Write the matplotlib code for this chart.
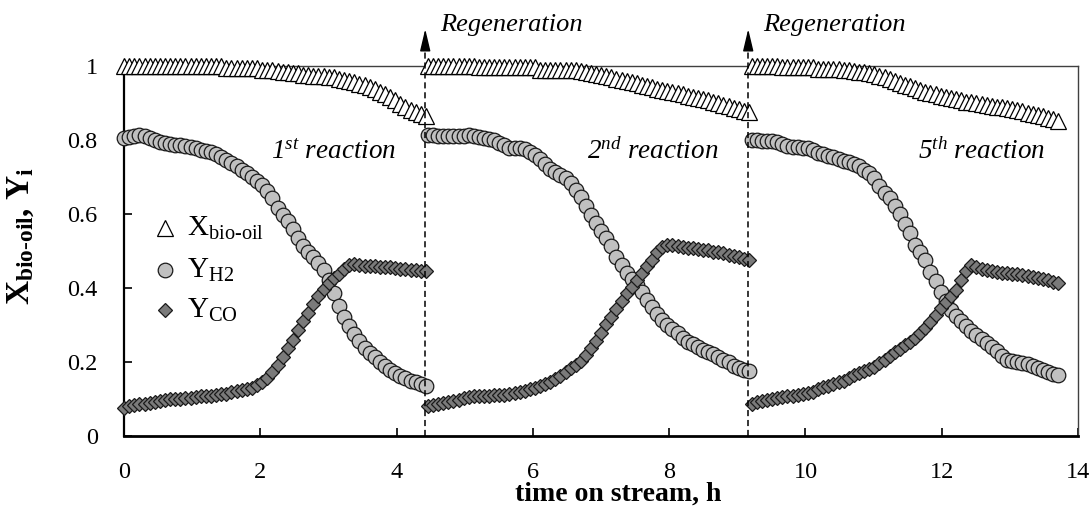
import numpy as np
import matplotlib
matplotlib.use("Agg")
import matplotlib.pyplot as plt

plt.rcParams['font.family'] = ['Liberation Serif', 'DejaVu Serif']
plt.rcParams['mathtext.fontset'] = 'custom'
plt.rcParams['mathtext.rm'] = 'Liberation Serif'
plt.rcParams['mathtext.it'] = 'Liberation Serif:italic'
plt.rcParams['mathtext.bf'] = 'Liberation Serif:bold'

# ---------------- data ----------------
# sampling windows (h) of the three reaction runs
seg_start = [0.0, 4.46, 9.21]
seg_end = [4.43, 9.17, 13.71]
seg_n = [60, 64, 61]
regen_x = [4.42, 9.16]
reaction_labels = ['1$^{st}$ reaction', '2$^{nd}$ reaction', '5$^{th}$ reaction']
reaction_label_x = [3.07, 7.76, 12.58]

# run 1
x_bio_1 = [1.0]*20 + [0.995]*7 + [0.99, 0.99, 0.988, 0.987, 0.985, 0.984, 0.982,
           0.980, 0.977, 0.975, 0.974, 0.973, 0.972, 0.971, 0.969, 0.966, 0.963,
           0.960, 0.956, 0.952, 0.948, 0.943, 0.937, 0.930, 0.923, 0.915, 0.907,
           0.898, 0.890, 0.882, 0.875, 0.869, 0.866]
y_h2_1 = [0.805, 0.808, 0.811, 0.813, 0.812, 0.806, 0.800, 0.795, 0.792, 0.790,
          0.787, 0.785, 0.783, 0.780, 0.777, 0.774, 0.771, 0.768, 0.762, 0.755,
          0.746, 0.738, 0.729, 0.720, 0.711, 0.700, 0.689, 0.677, 0.663, 0.642,
          0.617, 0.597, 0.580, 0.560, 0.535, 0.512, 0.498, 0.483, 0.467, 0.448,
          0.420, 0.385, 0.350, 0.322, 0.296, 0.275, 0.255, 0.238, 0.225, 0.212,
          0.200, 0.189, 0.179, 0.170, 0.162, 0.155, 0.149, 0.144, 0.140, 0.135]
y_co_1 = [0.075, 0.079, 0.082, 0.085, 0.087, 0.089, 0.091, 0.093, 0.096, 0.098,
          0.099, 0.100, 0.102, 0.103, 0.104, 0.106, 0.107, 0.108, 0.110, 0.112,
          0.114, 0.117, 0.120, 0.123, 0.126, 0.130, 0.137, 0.146, 0.157, 0.171,
          0.190, 0.212, 0.236, 0.260, 0.285, 0.309, 0.332, 0.355, 0.377, 0.396,
          0.412, 0.426, 0.438, 0.450, 0.462, 0.465, 0.462, 0.460, 0.459, 0.458,
          0.457, 0.456, 0.455, 0.454, 0.452, 0.451, 0.449, 0.448, 0.446, 0.445]

# run 2
x_bio_2 = [1.0]*10 + [0.996]*12 + [0.99]*7 + [0.988, 0.986, 0.984, 0.981, 0.978,
           0.975, 0.972, 0.969, 0.966, 0.963, 0.960, 0.957, 0.954, 0.950, 0.946,
           0.942, 0.938, 0.935, 0.932, 0.929, 0.926, 0.923, 0.920, 0.917, 0.914,
           0.911, 0.907, 0.903, 0.899, 0.895, 0.891, 0.887, 0.883, 0.879, 0.875]
y_h2_2 = [0.814, 0.813, 0.812, 0.811, 0.810, 0.810, 0.811, 0.812, 0.814, 0.812,
          0.808, 0.805, 0.802, 0.799, 0.792, 0.785, 0.779, 0.777, 0.777, 0.776,
          0.768, 0.759, 0.748, 0.735, 0.722, 0.712, 0.705, 0.698, 0.684, 0.665,
          0.645, 0.622, 0.598, 0.575, 0.553, 0.535, 0.512, 0.484, 0.462, 0.440,
          0.423, 0.408, 0.390, 0.368, 0.347, 0.328, 0.312, 0.299, 0.288, 0.277,
          0.265, 0.254, 0.247, 0.240, 0.233, 0.227, 0.221, 0.214, 0.206, 0.198,
          0.189, 0.182, 0.177, 0.174]
y_co_2 = [0.080, 0.083, 0.086, 0.088, 0.090, 0.093, 0.097, 0.101, 0.104, 0.106,
          0.107, 0.108, 0.108, 0.109, 0.110, 0.111, 0.113, 0.116, 0.119, 0.122,
          0.126, 0.130, 0.135, 0.140, 0.146, 0.153, 0.162, 0.173, 0.182, 0.191,
          0.201, 0.217, 0.236, 0.257, 0.279, 0.302, 0.321, 0.342, 0.364, 0.385,
          0.403, 0.420, 0.441, 0.460, 0.476, 0.497, 0.511, 0.516, 0.515, 0.513,
          0.511, 0.509, 0.507, 0.505, 0.503, 0.501, 0.498, 0.496, 0.493, 0.490,
          0.487, 0.483, 0.479, 0.475]

# run 5
x_bio_3 = [1.0]*6 + [0.996]*7 + [0.993, 0.993, 0.992, 0.992, 0.991, 0.990, 0.989,
           0.987, 0.985, 0.983, 0.981, 0.978, 0.974, 0.969, 0.965, 0.960, 0.955,
           0.950, 0.945, 0.940, 0.935, 0.931, 0.927, 0.923, 0.919, 0.916, 0.913,
           0.910, 0.907, 0.904, 0.902, 0.899, 0.897, 0.894, 0.892, 0.890, 0.888,
           0.886, 0.883, 0.880, 0.877, 0.874, 0.871, 0.867, 0.864, 0.860, 0.856,
           0.852]
y_h2_3 = [0.800, 0.799, 0.798, 0.797, 0.796, 0.794, 0.789, 0.784, 0.781, 0.780,
          0.779, 0.777, 0.772, 0.766, 0.761, 0.757, 0.753, 0.748, 0.744, 0.740,
          0.735, 0.730, 0.720, 0.710, 0.697, 0.675, 0.656, 0.642, 0.622, 0.601,
          0.572, 0.548, 0.515, 0.496, 0.475, 0.442, 0.418, 0.390, 0.365, 0.341,
          0.325, 0.311, 0.298, 0.284, 0.272, 0.261, 0.251, 0.240, 0.228, 0.216,
          0.206, 0.202, 0.200, 0.197, 0.193, 0.188, 0.183, 0.178, 0.173, 0.168,
          0.164]
y_co_3 = [0.087, 0.091, 0.094, 0.097, 0.100, 0.102, 0.104, 0.106, 0.108, 0.110,
          0.112, 0.115, 0.119, 0.125, 0.131, 0.135, 0.139, 0.144, 0.149, 0.157,
          0.165, 0.170, 0.175, 0.180, 0.187, 0.196, 0.206, 0.215, 0.226, 0.235,
          0.245, 0.254, 0.265, 0.277, 0.290, 0.308, 0.326, 0.345, 0.362, 0.378,
          0.395, 0.422, 0.445, 0.462, 0.457, 0.452, 0.448, 0.445, 0.443, 0.441,
          0.440, 0.438, 0.437, 0.435, 0.433, 0.430, 0.427, 0.424, 0.420, 0.416,
          0.412]

x_bio = [x_bio_1, x_bio_2, x_bio_3]
y_h2 = [y_h2_1, y_h2_2, y_h2_3]
y_co = [y_co_1, y_co_2, y_co_3]

xticks = [0, 2, 4, 6, 8, 10, 12, 14]
yticks = [0, 0.2, 0.4, 0.6, 0.8, 1.0]
yticklabels = ['0', '0.2', '0.4', '0.6', '0.8', '1']

# ---------------- styles ----------------
tri_style = dict(marker='^', ms=11, mfc='white', mec='black', mew=0.9, ls='none')
cir_style = dict(marker='o', ms=10.5, mfc='#c0c0c0', mec='#1a1a1a', mew=0.9, ls='none')
dia_style = dict(marker='D', ms=7.3, mfc='#7a7a7a', mec='#1a1a1a', mew=0.9, ls='none')

fig = plt.figure(figsize=(10.92, 5.17), dpi=100)
ax = fig.add_axes([0.1136, 0.1573, 0.8736, 0.715])

for s0, s1, n, xb, h2, co in zip(seg_start, seg_end, seg_n, x_bio, y_h2, y_co):
    t = np.linspace(s0, s1, n)
    ax.plot(t, xb, clip_on=False, zorder=3, **tri_style)
    ax.plot(t, h2, clip_on=False, zorder=4, **cir_style)
    ax.plot(t, co, clip_on=False, zorder=5, **dia_style)

ax.set_xlim(0, 14)
ax.set_ylim(0, 1)

# regeneration markers
for xr in regen_x:
    ax.plot([xr, xr], [0, 1.05], ls=(0, (4, 2.5)), lw=1.1, color='black',
            clip_on=False, zorder=6)
    ax.annotate('', xy=(xr, 1.10), xytext=(xr, 1.045),
                arrowprops=dict(arrowstyle='-|>,head_length=1.35,head_width=0.32',
                                color='black', lw=1.0, shrinkA=0, shrinkB=0),
                annotation_clip=False, zorder=6)
    ax.text(xr + 0.22, 1.112, 'Regeneration', fontsize=19, style='italic',
            ha='left', va='center', clip_on=False)

for lab, lx in zip(reaction_labels, reaction_label_x):
    ax.text(lx, 0.767, lab, fontsize=19.5, style='italic', ha='center', va='center')

# manual legend
leg_x_marker = 0.60
leg_x_text = 0.92
ax.plot([leg_x_marker], [0.562], zorder=5, **tri_style)
ax.plot([leg_x_marker], [0.448], zorder=5, **cir_style)
ax.plot([leg_x_marker], [0.340], zorder=5, **dia_style)
ax.text(leg_x_text, 0.562, r'X$_{\text{bio-oil}}$', fontsize=21, va='center', ha='left')
ax.text(leg_x_text, 0.448, r'Y$_{\text{H2}}$', fontsize=21, va='center', ha='left')
ax.text(leg_x_text, 0.340, r'Y$_{\text{CO}}$', fontsize=21, va='center', ha='left')

# axes styling
ax.set_xticks(xticks)
ax.set_yticks(yticks)
ax.set_yticklabels(yticklabels)
ax.tick_params(axis='both', direction='in', labelsize=17.5, width=1.2, length=6,
               colors='black')
ax.tick_params(axis='y', pad=19)
ax.tick_params(axis='x', pad=19)
for side, lw, col in [('left', 1.6, 'black'), ('bottom', 2.0, 'black'),
                      ('top', 1.0, '#404040'), ('right', 1.0, '#404040')]:
    ax.spines[side].set_linewidth(lw)
    ax.spines[side].set_color(col)

ax.set_xlabel('time on stream, h', fontsize=20, fontweight='bold')
ax.xaxis.set_label_coords(0.518, -0.125)
ax.set_ylabel(r'X$_{\mathbf{bio\text{-}oil}}$, Y$_{\mathbf{i}}$', fontsize=24,
              fontweight='bold')
ax.yaxis.set_label_coords(-0.092, 0.54)

fig.savefig('out.png', dpi=100)
